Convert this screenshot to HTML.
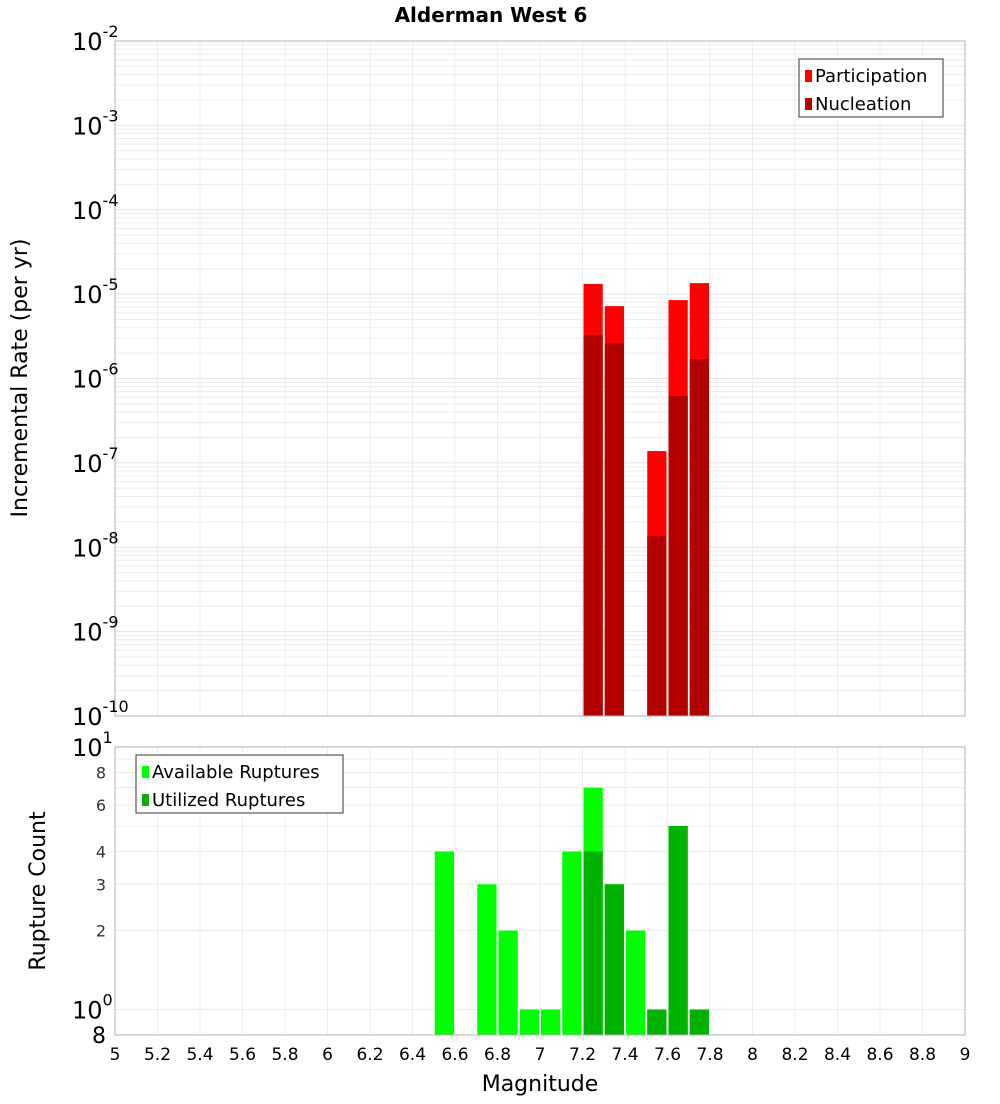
<!DOCTYPE html>
<html><head><meta charset="utf-8"><style>
body{margin:0;background:#fff;font-family:"DejaVu Sans","Liberation Sans",sans-serif;}
svg text{font-family:"DejaVu Sans","Liberation Sans",sans-serif;}
</style></head><body>
<svg id="c" width="1000" height="1100" xmlns="http://www.w3.org/2000/svg">
<text x="491" y="22" text-anchor="middle" font-size="20" font-weight="bold">Alderman West 6</text>
<g id="topplot"></g>
<g id="botplot"></g>
<text transform="translate(27,378) rotate(-90)" text-anchor="middle" font-size="22">Incremental Rate (per yr)</text>
<text transform="translate(45,891) rotate(-90)" text-anchor="middle" font-size="22">Rupture Count</text>
<text x="540" y="1091" text-anchor="middle" font-size="22">Magnitude</text>
</svg>
<script>
const mags=[7.25,7.35,7.55,7.65,7.75];
const participation=[1.32e-5,7.2e-6,1.38e-7,8.5e-6,1.35e-5];
const nucleation=[3.3e-6,2.6e-6,1.35e-8,6.2e-7,1.7e-6];
const availMags=[6.55,6.75,6.85,6.95,7.05,7.15,7.25,7.35,7.45,7.55,7.65,7.75];
const available=[4,3,2,1,1,4,7,3,2,1,5,1];
const utilMags=[7.25,7.35,7.55,7.65,7.75];
const utilized=[4,3,1,5,1];
const xTicks=[5,5.2,5.4,5.6,5.8,6,6.2,6.4,6.6,6.8,7,7.2,7.4,7.6,7.8,8,8.2,8.4,8.6,8.8,9];
const yTopExps=[-10,-9,-8,-7,-6,-5,-4,-3,-2];
const yBotTicks=[2,3,4,6,8];

const NS="http://www.w3.org/2000/svg";
const L=115,R=965,T1=41,B1=716,T2=747,B2=1035;
const xs=v=>L+(v-5)/4*(R-L);
const yT=v=>T1+(-2-Math.log10(v))/8*(B1-T1);
const yB=v=>T2+(1-Math.log10(v))/(1-Math.log10(0.8))*(B2-T2);
function mk(p,t,a){const e=document.createElementNS(NS,t);for(const k in a)e.setAttribute(k,a[k]);p.appendChild(e);return e;}
const topG=document.getElementById('topplot'),botG=document.getElementById('botplot');

for(let e=-10;e<-2;e++)for(let m=1;m<10;m++){const v=m*Math.pow(10,e);if(v<=1e-10)continue;
 const g=mk(topG,'line',{x1:L,x2:R,y1:yT(v),y2:yT(v),stroke:m==1?'#e4e4e4':'#ececec','stroke-width':1});
 
 }
for(let m=1;m<=10;m++){const g=mk(botG,'line',{x1:L,x2:R,y1:yB(m),y2:yB(m),stroke:'#ececec'});
 
 }
xTicks.forEach(t=>{[[topG,T1,B1],[botG,T2,B2]].forEach(([p,a,b])=>{const g=mk(p,'line',{x1:xs(t),x2:xs(t),y1:a,y2:b,stroke:'#ececec'});
 
 });
 const tx=mk(botG,'text',{x:xs(t),y:1060,'text-anchor':'middle','font-size':17});tx.textContent=String(t);
 
 });

const w=(xs(5.1)-xs(5));
mags.forEach((m,i)=>{
 const r=mk(topG,'rect',{x:xs(m)-w/2+1,y:yT(participation[i]),width:w-2,height:B1-yT(participation[i]),fill:'#ff0000'});
 
 
 const n=mk(topG,'rect',{x:xs(m)-w/2+1,y:yT(nucleation[i]),width:w-2,height:B1-yT(nucleation[i]),fill:'#b30000'});
 
 });
availMags.forEach((m,i)=>{const r=mk(botG,'rect',{x:xs(m)-w/2+1,y:yB(available[i]),width:w-2,height:B2-yB(available[i]),fill:'#00ff00'});
 
 });
utilMags.forEach((m,i)=>{const r=mk(botG,'rect',{x:xs(m)-w/2+1,y:yB(utilized[i]),width:w-2,height:B2-yB(utilized[i]),fill:'#00b300'});
 
 });

mk(topG,'rect',{x:L,y:T1,width:R-L,height:B1-T1,fill:'none',stroke:'#b0b0b0'});
mk(botG,'rect',{x:L,y:T2,width:R-L,height:B2-T2,fill:'none',stroke:'#b0b0b0'});

yTopExps.forEach(e=>{const y=yT(Math.pow(10,e));
 const t=mk(topG,'text',{x:72,y:y+9,'font-size':24});
 
 
 t.textContent='10';
 const s=mk(t,'tspan',{dy:-13,'font-size':16});s.textContent=String(e);});
[[10,'10','1'],[1,'10','0']].forEach(([v,b,s])=>{const y=yB(v);
 const t=mk(botG,'text',{x:72,y:y+9,'font-size':24});t.textContent=b;
 
 
 const sp=mk(t,'tspan',{dy:-13,'font-size':16});sp.textContent=s;});
yBotTicks.forEach(v=>{const t=mk(botG,'text',{x:106,y:yB(v)+6,'text-anchor':'end','font-size':16,fill:'#333'});t.textContent=String(v);
 
 });
{const t=mk(botG,'text',{x:106,y:yB(0.8)+8,'text-anchor':'end','font-size':22});t.textContent='8';
 
 }

function legend(p,x0,y0,wd,items,name){const g=mk(p,'g',{});
 
 
 mk(g,'rect',{x:x0,y:y0,width:wd,height:58,fill:'#fff',stroke:'#333'});
 items.forEach(([c,l],i)=>{mk(g,'rect',{x:x0+6,y:y0+11+i*28,width:7,height:12,fill:c});
  const t=mk(g,'text',{x:x0+16,y:y0+23+i*28,'font-size':18});t.textContent=l;
  
  });}
legend(topG,799,59,144,[['#ff0000','Participation'],['#b30000','Nucleation']],'rate-legend');
legend(botG,136,755,207,[['#00ff00','Available Ruptures'],['#00b300','Utilized Ruptures']],'count-legend');
</script>
</body></html>
